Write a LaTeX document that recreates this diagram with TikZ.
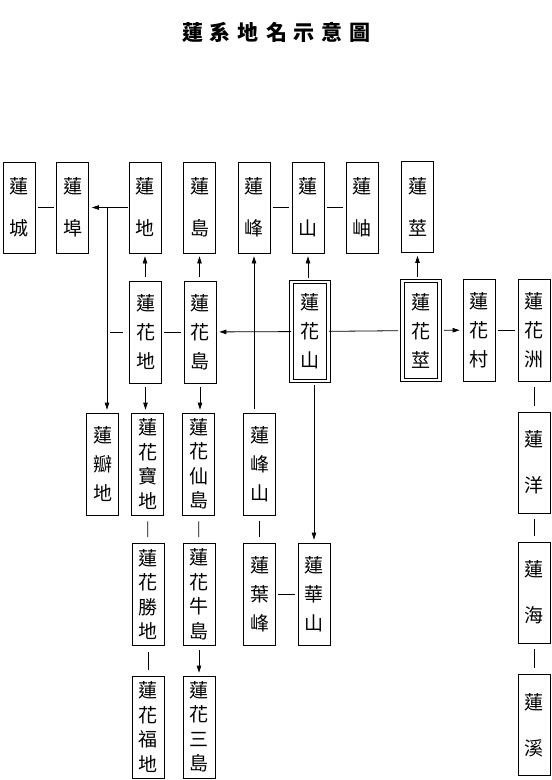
\documentclass[tikz,border=0pt]{standalone}
\usepackage{fontspec}
\newfontfamily\cjk{Noto Sans CJK TC}
\usetikzlibrary{arrows.meta}
\begin{document}
\begin{tikzpicture}[x=1pt,y=-1pt,
  box/.style={draw, line width=0.8pt, minimum width=32pt, inner sep=0pt, align=center,
              font=\cjk\fontsize{19}{#1}\selectfont},
  btwo/.style={box=42, minimum height=91pt},
  bthree/.style={box=29, minimum height=102pt},
  bfour/.style={box=24.5, minimum height=102pt},
  bright/.style={box=46, minimum height=101pt},
  dbl/.style={double, double distance=2.6pt, minimum width=37pt, minimum height=99pt},
  ln/.style={line width=0.8pt, shorten <=2.5pt, shorten >=2.5pt},
  vln/.style={line width=0.8pt, shorten <=6pt, shorten >=6pt},
  arr/.style={line width=0.8pt, -{Triangle[length=7pt,width=4.5pt]}, shorten <=4pt, shorten >=3pt}
]
\useasboundingbox (0,0) rectangle (552,780);

% title
\node (title) at (276.5,32) {\cjk\bfseries\fontsize{21}{21}\selectfont
  蓮\hskip7pt 系\hskip7pt 地\hskip7pt 名\hskip7pt 示\hskip7pt 意\hskip7pt 圖};

% top row
\node[btwo] (cheng) at (19,207.5) {蓮\\城};
\node[btwo] (bu) at (72.5,207.5) {蓮\\埠};
\node[btwo] (di) at (145,207.5) {蓮\\地};
\node[btwo] (dao) at (199.5,207.5) {蓮\\島};
\node[btwo] (feng) at (254,207.5) {蓮\\峰};
\node[btwo] (shan) at (308,207.5) {蓮\\山};
\node[btwo] (xiu) at (362,207.5) {蓮\\岫};
\node[btwo] (jing) at (417.5,207) {蓮\\莖};

% middle row
\node[bthree] (hhdi) at (145.5,332) {蓮\\花\\地};
\node[bthree] (hhdao) at (200,332) {蓮\\花\\島};
\node[bthree,dbl] (hhs) at (310,331.5) {蓮\\花\\山};
\node[bthree,dbl] (hhj) at (421,330.5) {蓮\\花\\莖};
\node[bthree] (hhc) at (479,330) {蓮\\花\\村};
\node[bthree] (hhz) at (534,330) {蓮\\花\\洲};

% row 3
\node[bthree] (ban) at (102.5,464) {蓮\\瓣\\地};
\node[bfour] (bao) at (147.5,464) {蓮\\花\\寶\\地};
\node[bfour] (xian) at (198.5,464) {蓮\\花\\仙\\島};
\node[bthree] (fengshan) at (259.5,464) {蓮\\峰\\山};
\node[bright] (yang) at (534,462.5) {蓮\\洋};

% row 4
\node[bfour] (sheng) at (148,594.5) {蓮\\花\\勝\\地};
\node[bfour] (niu) at (199,594.5) {蓮\\花\\牛\\島};
\node[bthree] (ye) at (259.5,594) {蓮\\葉\\峰};
\node[bthree] (hua) at (314,594) {蓮\\華\\山};
\node[bright] (hai) at (534,592.5) {蓮\\海};

% row 5
\node[bfour] (fu) at (148,727) {蓮\\花\\福\\地};
\node[bfour] (san) at (199,727) {蓮\\花\\三\\島};
\node[bright] (xi) at (534,725) {蓮\\溪};

% connectors top row
\draw[ln] (cheng) -- (bu);
\draw[arr, shorten <=1pt] (di) -- (bu);
\coordinate (j1) at (107,207.5);
\draw[arr, shorten <=0pt] (j1) -- (j1 |- ban.north);
\draw[line width=0.8pt, shorten <=3pt, shorten >=6pt] (j1 |- hhdi.west) -- (hhdi.west);
\draw[ln] (feng) -- (shan);
\draw[ln] (shan) -- (xiu);

% middle connectors
\draw[arr] (di.south |- hhdi.north) -- (di.south);
\draw[arr] (hhdi.south) -- (hhdi.south |- bao.north);
\draw[arr] (dao.south |- hhdao.north) -- (dao.south);
\draw[arr] (hhdao.south) -- (hhdao.south |- xian.north);
\draw[ln] (hhdao) -- (hhdi);
\draw[arr, shorten <=0pt] (hhs) -- (hhdao);
\draw[arr] (feng.south |- fengshan.north) -- (feng.south);
\draw[arr] (shan.south |- hhs.north) -- (shan.south);
\draw[arr] (hua.north |- hhs.south) -- (hua.north);
\draw[line width=0.8pt, shorten >=4pt] (hhs) -- (hhj);
\draw[arr] (jing.south |- hhj.north) -- (jing.south);
\draw[arr] (hhj) -- (hhc);
\draw[ln] (hhc) -- (hhz);

% right column
\draw[vln] (hhz) -- (yang);
\draw[vln] (yang) -- (hai);
\draw[vln] (hai) -- (xi);

% lower left
\draw[vln] (bao) -- (sheng);
\draw[vln] (sheng) -- (fu);
\draw[vln] (xian) -- (niu);
\draw[arr] (niu) -- (san);
\draw[vln] (fengshan) -- (ye);
\draw[ln] (ye) -- (hua);
\end{tikzpicture}
\end{document}
